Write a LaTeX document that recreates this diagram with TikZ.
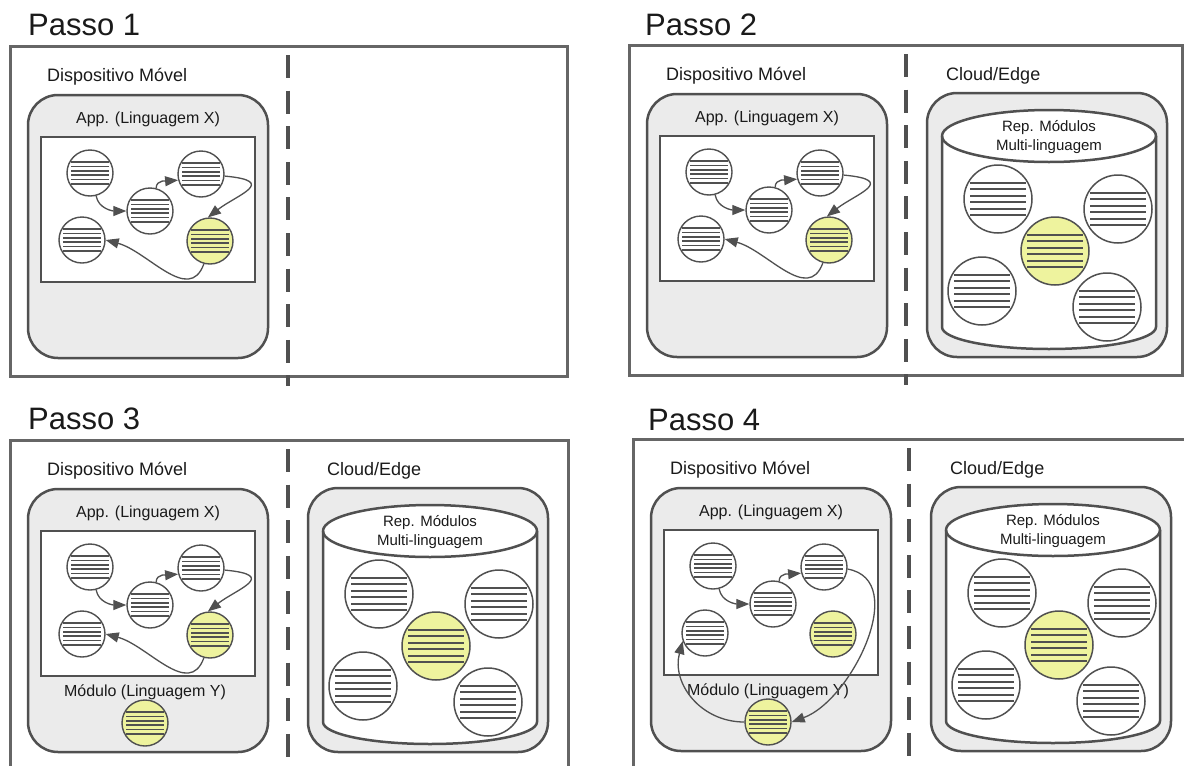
\documentclass[tikz,border=0pt]{standalone}
\usepackage{fontspec}
\setmainfont{Liberation Sans}
\usetikzlibrary{arrows.meta}

\definecolor{ink}{HTML}{505050}
\definecolor{framegray}{HTML}{666666}
\definecolor{shade}{HTML}{EBEBEB}
\definecolor{lemon}{HTML}{EEF39E}
\definecolor{txt}{HTML}{1A1A1A}

\tikzset{
  panel/.style={draw=framegray, line width=3pt, outer sep=0pt, inner sep=0pt},
  device/.style={draw=ink, line width=2.5pt, fill=shade, rounded corners=30pt, inner sep=0pt},
  appbox/.style={draw=ink, line width=1.4pt, fill=white, inner sep=0pt},
  drum/.style={draw=ink, line width=2.5pt, fill=white},
  smallmod/.style={circle, draw=ink, line width=1.4pt, fill=white, minimum size=46pt, inner sep=0pt,
    path picture={\foreach \k in {-2.5,-1.5,-0.5,0.5,1.5,2.5}
      \draw[ink, line width=1.5pt] ([shift={(-19pt,\k*4.4pt)}]path picture bounding box.center) -- ++(38pt,0pt);}},
  bigmod/.style={circle, draw=ink, line width=1.5pt, fill=white, minimum size=68pt, inner sep=0pt,
    path picture={\foreach \k in {-2.5,-1.5,-0.5,0.5,1.5,2.5}
      \draw[ink, line width=1.9pt] ([shift={(-28pt,\k*6.5pt)}]path picture bounding box.center) -- ++(56pt,0pt);}},
  hot/.style={fill=lemon},
  flow/.style={draw=ink, line width=1.3pt, -{Triangle[length=13pt,width=10pt]}},
  divider/.style={draw=ink, line width=4.5pt, dash pattern=on 23pt off 12.6pt},
  title/.style={font=\fontsize{31}{36}\selectfont, text=txt, anchor=base west, inner sep=0pt},
  head/.style={font=\fontsize{18}{21}\selectfont, text=txt, anchor=base west, inner sep=0pt},
  lbl/.style={font=\fontsize{16}{19}\selectfont, text=txt, anchor=base, inner sep=0pt},
  drumlbl/.style={font=\fontsize{15}{18}\selectfont, text=txt, anchor=base, inner sep=0pt},
}

% mobile device with the application graph
\newcommand{\devside}[1]{%
  \node[head] (#1devlbl) at (37,35.5) {Dispositivo Móvel};
  \node[device, minimum width=240pt, minimum height=263pt] (#1dev) at (138,180.5) {};
  \node[lbl] (#1applbl) at (138,77) {App. (Linguagem X)};
  \node[appbox, minimum width=214pt, minimum height=145pt] (#1app) at (138,163.5) {};
  \node[smallmod] (#1a) at (80,127) {};
  \node[smallmod] (#1b) at (140,165) {};
  \node[smallmod] (#1c) at (191,128) {};
  \node[smallmod] (#1d) at (72,194) {};
  \node[smallmod, hot] (#1e) at (200,195) {};
  \draw[flow] (#1a.-75) to[out=-80,in=180] (#1b.west);
  \draw[flow] (#1b.75) to[out=90,in=185] (#1c.195);
}
% original loop through the local module
\newcommand{\localloop}[1]{%
  \draw[flow] (#1c.-5) .. controls +(55,5) and +(28,-22) .. (#1e.95);
  \draw[flow] (#1e.-105) to[out=-110,in=-15,looseness=1.1] (#1d.east);
}
% downloaded module in another language
\newcommand{\modside}[1]{%
  \node[lbl] (#1modlbl) at (135,256) {Módulo (Linguagem Y)};
  \node[smallmod, hot] (#1m) at (135,283) {};
}
% cloud/edge repository
\newcommand{\cloudside}[1]{%
  \node[head] (#1cloudlbl) at (317,35.5) {Cloud/Edge};
  \node[device, minimum width=240pt, minimum height=264pt] (#1cloud) at (418,180) {};
  \draw[drum] (313,91) -- (313,282)
    arc[start angle=180, end angle=360, x radius=107pt, y radius=22pt]
    -- (527,91)
    arc[start angle=0, end angle=180, x radius=107pt, y radius=26pt] -- cycle;
  \draw[drum, fill=none] (313,91) arc[start angle=180, end angle=360, x radius=107pt, y radius=26pt];
  \node[drumlbl] (#1rep) at (420,86) {Rep. Módulos};
  \node[drumlbl] (#1multi) at (420,105) {Multi-linguagem};
  \node[bigmod] (#1r1) at (369,154) {};
  \node[bigmod] (#1r2) at (489,164) {};
  \node[bigmod, hot] (#1r3) at (426,206) {};
  \node[bigmod] (#1r4) at (353,246) {};
  \node[bigmod] (#1r5) at (478,262) {};
}

\begin{document}
\begin{tikzpicture}[x=1pt, y=-1pt]
\useasboundingbox (0,0) rectangle (1184,766);

% Passo 1
\begin{scope}[shift={(10,46)}]
  \node[title] (p1title) at (18,-11) {Passo 1};
  \node[panel, minimum width=557pt, minimum height=330pt, anchor=north west] (p1frame) at (0,0) {};
  \draw[divider] (278,9) -- (278,340);
  \devside{p1}
  \localloop{p1}
\end{scope}

% Passo 2
\begin{scope}[shift={(629,45)}]
  \node[title] (p2title) at (16,-10) {Passo 2};
  \node[panel, minimum width=553pt, minimum height=330pt, anchor=north west] (p2frame) at (0,0) {};
  \draw[divider] (277,9) -- (277,340);
  \devside{p2}
  \localloop{p2}
  \cloudside{p2}
\end{scope}

% Passo 3
\begin{scope}[shift={(10,440)}]
  \node[title] (p3title) at (18,-11) {Passo 3};
  \node[panel, minimum width=558pt, minimum height=360pt, anchor=north west] (p3frame) at (0,0) {};
  \draw[divider] (278,9) -- (278,340);
  \devside{p3}
  \localloop{p3}
  \modside{p3}
  \cloudside{p3}
\end{scope}

% Passo 4
\begin{scope}[shift={(633,439)}]
  \node[title] (p4title) at (15,-9) {Passo 4};
  \node[panel, minimum width=570pt, minimum height=360pt, anchor=north west] (p4frame) at (0,0) {};
  \draw[divider] (276,9) -- (276,340);
  \devside{p4}
  \modside{p4}
  \draw[flow] (p4c.-5) to[out=-10,in=20] (p4m.east);
  \draw[flow] (p4m.west) to[out=180,in=255,looseness=1.1] (p4d.200);
  \cloudside{p4}
\end{scope}
\end{tikzpicture}
\end{document}
